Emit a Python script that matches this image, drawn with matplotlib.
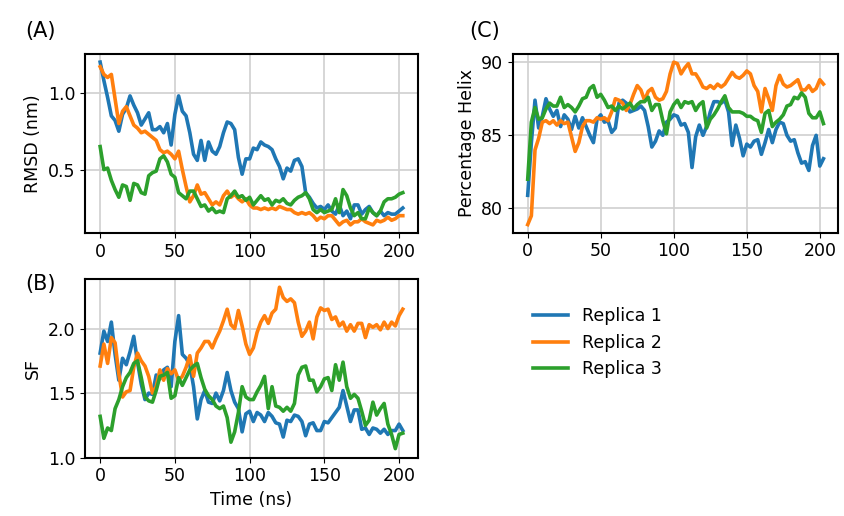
import numpy as np
import matplotlib
matplotlib.use("Agg")
import matplotlib.pyplot as plt

# time axis (ns), one frame every 2.5 ns
time_ns = np.arange(82) * 2.5

rmsd_1 = [1.20, 1.08, 0.97, 0.85, 0.82, 0.75, 0.86, 0.90, 0.98, 0.92,
          0.87, 0.79, 0.83, 0.87, 0.76, 0.76, 0.78, 0.74, 0.80, 0.66,
          0.86, 0.98, 0.88, 0.85, 0.74, 0.60, 0.56, 0.69, 0.56, 0.68,
          0.62, 0.60, 0.65, 0.74, 0.81, 0.80, 0.76, 0.58, 0.47, 0.57,
          0.57, 0.64, 0.63, 0.68, 0.66, 0.65, 0.63, 0.57, 0.52, 0.44,
          0.51, 0.49, 0.56, 0.57, 0.52, 0.35, 0.32, 0.28, 0.25, 0.26,
          0.24, 0.27, 0.23, 0.21, 0.27, 0.20, 0.23, 0.18, 0.27, 0.27,
          0.21, 0.24, 0.26, 0.22, 0.20, 0.23, 0.20, 0.22, 0.21, 0.21,
          0.23, 0.25]
rmsd_2 = [1.17, 1.12, 1.10, 1.12, 0.96, 0.80, 0.88, 0.91, 0.85, 0.79,
          0.77, 0.74, 0.75, 0.73, 0.71, 0.69, 0.63, 0.61, 0.62, 0.60,
          0.57, 0.62, 0.50, 0.39, 0.29, 0.33, 0.40, 0.34, 0.35, 0.31,
          0.27, 0.29, 0.27, 0.33, 0.36, 0.32, 0.34, 0.31, 0.29, 0.31,
          0.27, 0.25, 0.25, 0.24, 0.25, 0.24, 0.25, 0.24, 0.26, 0.25,
          0.24, 0.24, 0.22, 0.21, 0.22, 0.21, 0.22, 0.20, 0.17, 0.19,
          0.18, 0.20, 0.20, 0.17, 0.14, 0.16, 0.17, 0.14, 0.16, 0.16,
          0.18, 0.16, 0.15, 0.14, 0.17, 0.16, 0.17, 0.19, 0.17, 0.18,
          0.20, 0.20]
rmsd_3 = [0.65, 0.50, 0.51, 0.43, 0.37, 0.32, 0.40, 0.39, 0.30, 0.41,
          0.40, 0.35, 0.34, 0.46, 0.48, 0.49, 0.57, 0.59, 0.55, 0.47,
          0.45, 0.35, 0.33, 0.31, 0.36, 0.36, 0.31, 0.26, 0.27, 0.23,
          0.25, 0.22, 0.23, 0.22, 0.31, 0.33, 0.36, 0.32, 0.33, 0.30,
          0.32, 0.27, 0.30, 0.33, 0.30, 0.31, 0.27, 0.30, 0.29, 0.31,
          0.28, 0.27, 0.30, 0.32, 0.33, 0.35, 0.31, 0.24, 0.22, 0.24,
          0.22, 0.23, 0.24, 0.31, 0.22, 0.37, 0.33, 0.25, 0.20, 0.22,
          0.18, 0.18, 0.25, 0.22, 0.20, 0.23, 0.29, 0.31, 0.31, 0.32,
          0.34, 0.35]

sf_1 = [1.81, 1.98, 1.90, 2.05, 1.80, 1.60, 1.77, 1.72, 1.82, 1.94,
        1.74, 1.57, 1.45, 1.50, 1.49, 1.64, 1.61, 1.68, 1.70, 1.55,
        1.90, 2.10, 1.80, 1.77, 1.72, 1.55, 1.30, 1.45, 1.52, 1.43,
        1.42, 1.50, 1.44, 1.52, 1.66, 1.52, 1.43, 1.38, 1.20, 1.34,
        1.36, 1.28, 1.35, 1.33, 1.28, 1.35, 1.32, 1.27, 1.26, 1.16,
        1.29, 1.28, 1.33, 1.32, 1.28, 1.17, 1.26, 1.27, 1.21, 1.21,
        1.28, 1.27, 1.31, 1.35, 1.39, 1.52, 1.40, 1.28, 1.37, 1.37,
        1.22, 1.23, 1.18, 1.23, 1.22, 1.19, 1.22, 1.18, 1.21, 1.21,
        1.26, 1.21]
sf_2 = [1.71, 1.88, 1.73, 1.93, 1.89, 1.65, 1.47, 1.51, 1.52, 1.70,
        1.81, 1.75, 1.71, 1.63, 1.50, 1.55, 1.68, 1.60, 1.69, 1.65,
        1.68, 1.60, 1.63, 1.70, 1.79, 1.63, 1.81, 1.85, 1.90, 1.90,
        1.85, 1.92, 1.98, 2.06, 2.15, 2.03, 2.00, 2.14, 2.02, 1.88,
        1.80, 1.85, 1.97, 2.05, 2.10, 2.04, 2.12, 2.15, 2.32, 2.24,
        2.21, 2.23, 2.20, 2.05, 1.94, 1.98, 2.05, 1.92, 2.09, 2.16,
        2.14, 2.15, 2.07, 2.09, 2.02, 2.05, 1.98, 2.03, 1.98, 2.04,
        2.04, 1.93, 2.03, 2.01, 2.03, 1.99, 2.05, 2.00, 2.05, 2.02,
        2.10, 2.15]
sf_3 = [1.32, 1.15, 1.23, 1.21, 1.38, 1.45, 1.55, 1.62, 1.66, 1.73,
        1.75, 1.62, 1.47, 1.44, 1.43, 1.52, 1.63, 1.64, 1.66, 1.46,
        1.48, 1.62, 1.56, 1.62, 1.68, 1.71, 1.73, 1.62, 1.53, 1.48,
        1.45, 1.40, 1.38, 1.40, 1.31, 1.12, 1.20, 1.35, 1.55, 1.47,
        1.45, 1.45, 1.51, 1.56, 1.63, 1.38, 1.55, 1.40, 1.39, 1.36,
        1.39, 1.36, 1.42, 1.64, 1.70, 1.71, 1.60, 1.60, 1.51, 1.55,
        1.61, 1.62, 1.52, 1.72, 1.60, 1.74, 1.55, 1.46, 1.49, 1.46,
        1.36, 1.25, 1.29, 1.43, 1.33, 1.38, 1.42, 1.26, 1.18, 1.07,
        1.18, 1.19]

helix_1 = [80.9, 84.5, 87.4, 85.5, 86.3, 87.5, 86.8, 86.3, 86.7, 85.6,
           86.4, 86.1, 85.4, 86.3, 85.5, 86.2, 85.6, 85.0, 84.5, 86.1,
           86.4, 85.9, 86.0, 85.2, 85.5, 87.2, 87.4, 87.2, 86.6, 86.7,
           86.8, 87.0, 86.7, 85.6, 84.2, 84.6, 85.3, 85.0, 85.9, 86.1,
           86.4, 86.3, 85.7, 85.8, 85.2, 82.8, 84.9, 85.7, 85.0, 85.6,
           86.6, 87.3, 87.3, 87.2, 87.4, 86.6, 84.3, 85.7, 84.8, 83.6,
           84.4, 84.2, 84.6, 84.7, 83.7, 84.5, 85.4, 84.5, 85.4, 85.9,
           85.8, 85.0, 84.6, 84.7, 83.8, 83.1, 83.2, 82.6, 84.3, 85.0,
           82.9, 83.4]
helix_2 = [78.9, 79.5, 84.0, 84.8, 85.9, 86.0, 85.8, 86.0, 85.7, 86.0,
           85.8, 85.9, 84.9, 83.9, 84.5, 85.6, 86.0, 86.0, 85.9, 86.2,
           86.1, 86.2, 86.0, 86.6, 87.5, 87.4, 87.2, 86.7, 87.1, 87.8,
           88.4, 88.1, 87.4, 88.0, 88.2, 87.6, 87.4, 87.5, 88.0, 89.2,
           90.0, 89.9, 89.2, 89.6, 89.9, 89.2, 89.2, 88.8, 88.3, 88.2,
           88.4, 88.2, 88.5, 88.3, 88.5, 88.9, 89.3, 89.0, 88.9, 89.1,
           89.4, 89.2, 88.4, 88.0, 86.6, 88.2, 87.5, 86.7, 88.4, 89.1,
           88.5, 88.3, 88.4, 88.6, 88.8, 88.1, 88.1, 88.4, 88.0, 88.2,
           88.8, 88.5]
helix_3 = [82.0, 85.9, 86.9, 86.1, 86.2, 86.8, 87.2, 87.0, 87.0, 87.6,
           86.9, 87.1, 86.9, 86.6, 87.0, 87.5, 87.6, 88.2, 88.4, 87.6,
           87.8, 87.4, 86.9, 87.0, 86.7, 87.0, 86.8, 87.0, 87.2, 86.8,
           87.1, 87.3, 87.3, 87.6, 86.7, 87.1, 87.1, 86.0, 85.1, 86.6,
           87.1, 87.4, 86.9, 87.3, 87.2, 87.3, 86.7, 87.1, 87.3, 85.5,
           86.1, 86.4, 86.8, 87.3, 87.7, 86.9, 86.6, 86.6, 86.6, 86.5,
           86.3, 86.3, 86.1, 86.0, 85.2, 86.5, 86.7, 85.6, 85.9, 86.1,
           86.4, 87.0, 87.1, 87.6, 87.5, 87.9, 87.6, 86.5, 86.2, 86.2,
           86.6, 85.8]

replica_labels = ["Replica 1", "Replica 2", "Replica 3"]
colors = ["#1f77b4", "#ff7f0e", "#2ca02c"]

plt.rcParams["font.size"] = 12.5
plt.rcParams["axes.linewidth"] = 1.5

fig = plt.figure(figsize=(8.45, 5.16), dpi=100)
ax_a = fig.add_axes([0.1006, 0.5484, 0.394, 0.347])
ax_b = fig.add_axes([0.1006, 0.1130, 0.394, 0.346])
ax_c = fig.add_axes([0.607, 0.549, 0.385, 0.3463])


def draw_panel(ax, series, ylabel, yticks):
    lines = []
    for ys, lab, col in zip(series, replica_labels, colors):
        ln, = ax.plot(time_ns, ys, '-', color=col, lw=2.6, label=lab)
        lines.append(ln)
    ax.set_ylabel(ylabel)
    ax.set_yticks(yticks)
    ax.set_xticks([0, 50, 100, 150, 200])
    ax.grid(True, color='#d0d0d0', lw=1.2)
    ax.set_axisbelow(True)
    return lines


handles = draw_panel(ax_a, [rmsd_1, rmsd_2, rmsd_3], 'RMSD (nm)', [0.5, 1.0])
draw_panel(ax_b, [sf_1, sf_2, sf_3], 'SF', [1.0, 1.5, 2.0])
draw_panel(ax_c, [helix_1, helix_2, helix_3], 'Percentage Helix', [80, 85, 90])
ax_b.set_xlabel('Time (ns)')

fig.text(0.03, 0.94, '(A)', fontsize=15, va='center')
fig.text(0.03, 0.45, '(B)', fontsize=15, va='center')
fig.text(0.555, 0.94, '(C)', fontsize=15, va='center')

fig.legend(handles=handles, loc='center', bbox_to_anchor=(0.707, 0.336),
           frameon=False, handlelength=2.0, fontsize=12.5)

fig.savefig('out.png', dpi=100)
